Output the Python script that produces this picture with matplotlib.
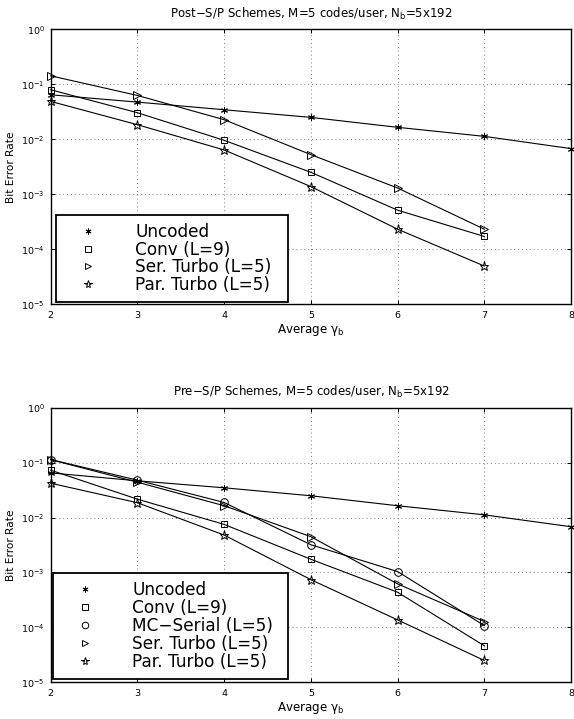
import matplotlib
matplotlib.use('Agg')
import matplotlib.pyplot as plt
from matplotlib.lines import Line2D

plt.rcParams['font.family'] = ['DejaVu Sans']
plt.rcParams['mathtext.default'] = 'regular'

# x axis: average gamma_b
snr = [2, 3, 4, 5, 6, 7, 8]

# top panel (post-S/P)
post_uncoded = [0.0644, 0.0474, 0.0344, 0.0250, 0.0165, 0.0113, 0.00676]
post_conv = [0.0794, 0.0304, 0.00957, 0.00251, 5.14e-4, 1.71e-4]
post_ser = [0.1425, 0.0626, 0.0227, 0.00526, 0.0013, 2.32e-4]
post_par = [0.0488, 0.0184, 0.00639, 0.00138, 2.32e-4, 4.96e-5]

# bottom panel (pre-S/P)
pre_uncoded = [0.0650, 0.0466, 0.0348, 0.0249, 0.0164, 0.0112, 0.0068]
pre_conv = [0.0728, 0.0216, 0.0075, 0.00174, 4.37e-4, 4.63e-5]
pre_mcser = [0.1137, 0.0479, 0.0188, 0.0032, 0.00104, 1.08e-4]
pre_ser = [0.113, 0.044, 0.0164, 0.00448, 6.2e-4, 1.28e-4]
pre_par = [0.0422, 0.0186, 0.0048, 7.4e-4, 1.37e-4, 2.5e-5]

labels_top = ['Uncoded', 'Conv (L=9)', 'Ser. Turbo (L=5)', 'Par. Turbo (L=5)']
labels_bot = ['Uncoded', 'Conv (L=9)', 'MC\u2212Serial (L=5)', 'Ser. Turbo (L=5)', 'Par. Turbo (L=5)']

asterisk = (6, 2, 0)
mk = {'Uncoded': asterisk, 'Conv (L=9)': 's', 'MC\u2212Serial (L=5)': 'o',
      'Ser. Turbo (L=5)': '>', 'Par. Turbo (L=5)': '*'}
ms = {'Uncoded': 5, 'Conv (L=9)': 4.5, 'MC\u2212Serial (L=5)': 5.5,
      'Ser. Turbo (L=5)': 5.5, 'Par. Turbo (L=5)': 6.5}

fig = plt.figure(figsize=(5.74, 7.19), dpi=100)
ax1 = fig.add_axes([0.0883, 0.5768, 0.9065, 0.3825])
ax2 = fig.add_axes([0.0883, 0.0510, 0.9065, 0.3820])


def draw(ax, series, labels, title, legbox, lspace):
    for y, lab in zip(series, labels):
        ax.semilogy(snr[:len(y)], y, color='k', lw=0.8, marker=mk[lab],
                    ms=ms[lab], mfc='none' if lab != 'Uncoded' else 'k',
                    mec='k', mew=0.7, clip_on=False, zorder=3)
    ax.set_xlim(2, 8)
    ax.set_ylim(1e-5, 1)
    ax.set_xticks(snr)
    ax.set_yticks([1e-5, 1e-4, 1e-3, 1e-2, 1e-1, 1])
    ax.minorticks_off()
    ax.tick_params(direction='in', top=True, right=True, labelsize=6.8,
                   length=3, width=0.7, pad=4.5)
    ax.grid(True, color='0.5', ls=(0, (1, 3)), lw=0.7)
    for s in ax.spines.values():
        s.set_linewidth(1.0)
    ax.set_title(title, fontsize=8.5, pad=8.5)
    ax.set_xlabel('Average $\\gamma_b$', fontsize=8.6, labelpad=2)
    ax.set_ylabel('Bit Error Rate', fontsize=7.6, labelpad=3.5)
    handles = [Line2D([], [], ls='none', color='k', marker=mk[l], ms=ms[l] - 0.8,
                      mfc='none' if l != 'Uncoded' else 'k', mec='k', mew=0.7)
               for l in labels]
    leg = ax.legend(handles, labels, loc='lower left', bbox_to_anchor=legbox,
                    mode='expand', borderaxespad=0, fontsize=12.2,
                    handlelength=2.83, handletextpad=1.37, labelspacing=lspace,
                    borderpad=0.48, fancybox=False, framealpha=1, edgecolor='k')
    leg.get_frame().set_linewidth(1.3)
    leg.set_zorder(5)


draw(ax1, [post_uncoded, post_conv, post_ser, post_par], labels_top,
     'Post\u2212S/P Schemes, M=5 codes/user, N$_b$=5x192',
     (0.0102, 0.0084, 0.446, 0.3), -0.03)
draw(ax2, [pre_uncoded, pre_conv, pre_mcser, pre_ser, pre_par], labels_bot,
     'Pre\u2212S/P Schemes, M=5 codes/user, N$_b$=5x192',
     (0.004, 0.011, 0.453, 0.3), 0.0)

fig.savefig('out.png', dpi=100)
